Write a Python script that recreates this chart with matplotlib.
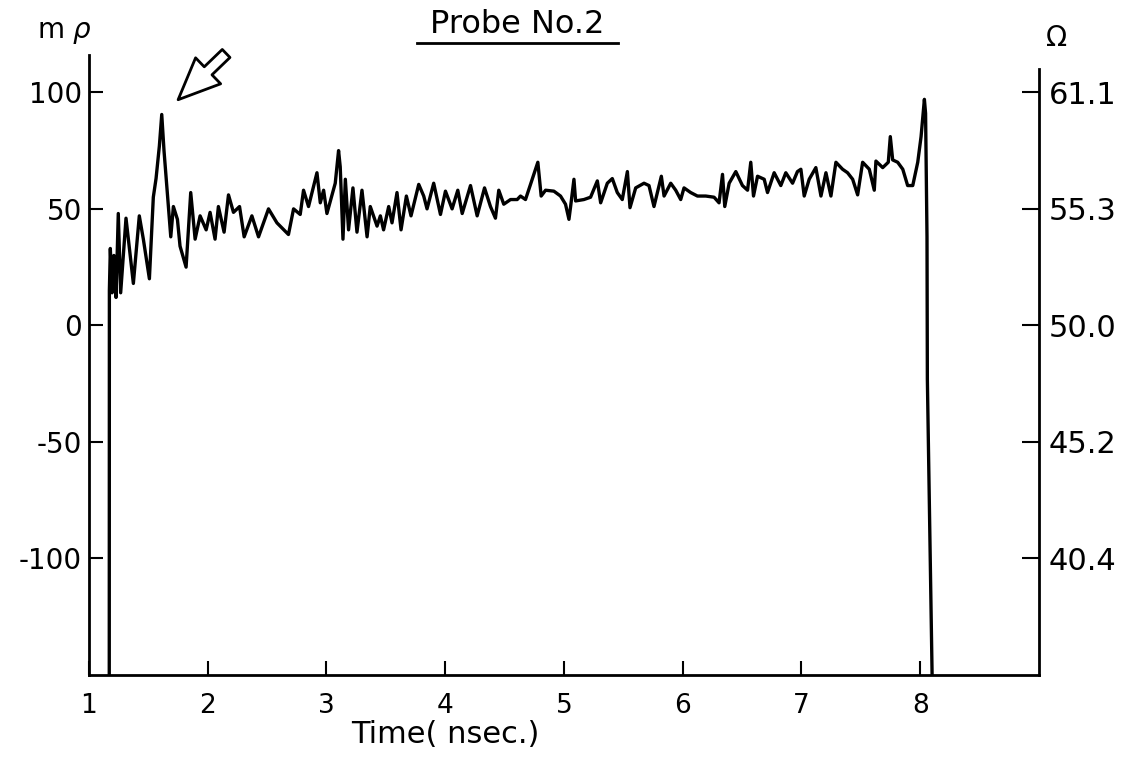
import matplotlib.pyplot as plt
from matplotlib.lines import Line2D

plt.rcParams['font.family'] = ['DejaVu Sans']

# trace (time in nsec, reflection in milli-rho)
time_ns = [1.171, 1.172, 1.18, 1.195, 1.21, 1.228, 1.247, 1.267, 1.312, 1.374,
           1.424, 1.458, 1.509, 1.542, 1.565, 1.593, 1.613, 1.632, 1.655, 1.689,
           1.711, 1.745, 1.767, 1.818, 1.857, 1.894, 1.936, 1.987, 2.020, 2.062,
           2.090, 2.138, 2.175, 2.217, 2.268, 2.307, 2.372, 2.428, 2.512, 2.583,
           2.680, 2.723, 2.779, 2.807, 2.849, 2.920, 2.948, 2.976, 3.004, 3.074,
           3.102, 3.116, 3.139, 3.159, 3.186, 3.223, 3.257, 3.299, 3.342, 3.369,
           3.426, 3.454, 3.481, 3.524, 3.552, 3.594, 3.628, 3.673, 3.712, 3.777,
           3.819, 3.847, 3.903, 3.960, 4.002, 4.058, 4.106, 4.143, 4.213, 4.269,
           4.331, 4.381, 4.423, 4.451, 4.493, 4.550, 4.606, 4.634, 4.676, 4.733,
           4.780, 4.808, 4.845, 4.915, 4.971, 5.013, 5.042, 5.056, 5.084, 5.098,
           5.168, 5.224, 5.281, 5.309, 5.365, 5.407, 5.449, 5.491, 5.534, 5.556,
           5.604, 5.674, 5.716, 5.758, 5.820, 5.843, 5.899, 5.941, 5.983, 6.011,
           6.067, 6.124, 6.194, 6.264, 6.306, 6.335, 6.354, 6.391, 6.447, 6.503,
           6.546, 6.573, 6.596, 6.630, 6.686, 6.714, 6.770, 6.826, 6.868, 6.925,
           6.966, 6.995, 7.023, 7.065, 7.121, 7.164, 7.206, 7.248, 7.290, 7.346,
           7.388, 7.431, 7.473, 7.515, 7.571, 7.613, 7.627, 7.684, 7.731, 7.748,
           7.768, 7.810, 7.853, 7.894, 7.937, 7.979, 8.007, 8.029, 8.035, 8.045,
           8.057, 8.06, 8.10]
rho_m = [-150, 15, 33, 14, 30, 12, 48, 14, 46, 18,
         47, 37, 20, 55, 63, 77, 90.5, 75, 60, 38,
         51, 45.5, 34, 25, 57, 37, 47, 41, 48.5, 37,
         51, 40, 56, 48.5, 51, 38, 47, 38, 50, 44,
         39, 50, 47.6, 58, 51, 65.5, 52.6, 58, 48, 61,
         75, 68, 37, 62.7, 41, 59, 40, 58, 38, 51,
         42.6, 47, 41, 51, 44, 57, 41, 55.5, 47, 60.5,
         55.5, 50, 61, 47.6, 57.6, 50, 58, 48, 60, 47,
         59, 51, 46, 58, 52, 54, 54, 55.5, 54, 62.7,
         70, 55.5, 58, 57.6, 55.5, 52, 45.5, 51, 62.7, 53.4,
         54, 55, 62, 52.6, 61, 63, 57, 54, 66, 50.5,
         59, 61, 60, 51, 64, 55.5, 61, 58, 54, 59,
         57, 55.5, 55.5, 55, 52.6, 64.8, 51, 61, 66, 60,
         58, 70, 55.5, 64, 62.7, 57, 65.5, 60, 65.5, 61,
         66, 67, 55.5, 62.7, 67.7, 55.5, 65.5, 55.5, 70, 67,
         65.5, 62.7, 56, 70, 67, 58, 70.5, 67.7, 70, 81,
         71, 70, 67, 60, 60, 70, 81, 93.5, 97, 91,
         38, -23, -150]

x_ticks = [1, 2, 3, 4, 5, 6, 7, 8]
rho_ticks = [100, 50, 0, -50, -100]
ohm_labels = ['61.1', '55.3', '50.0', '45.2', '40.4']

fig = plt.figure(figsize=(11.36, 7.57), dpi=100)
ax = fig.add_axes([0.0783, 0.1083, 0.8363, 0.819])

ax.plot(time_ns, rho_m, color='black', lw=2.4)

ax.set_xlim(1, 9)
ax.set_ylim(-150, 116)
ax.set_xticks(x_ticks)
ax.set_xticklabels([str(t) for t in x_ticks])
ax.set_yticks(rho_ticks)
ax.set_yticklabels([str(v) for v in rho_ticks])
ax.tick_params(axis='x', direction='in', length=10, width=1.5, pad=13, labelsize=19)
ax.tick_params(axis='y', direction='in', length=10, width=1.5, pad=5, labelsize=20)
ax.spines['top'].set_visible(False)
ax.spines['right'].set_visible(False)
for s in ['left', 'bottom']:
    ax.spines[s].set_linewidth(2)

ax2 = ax.twinx()
ax2.set_ylim(ax.get_ylim())
ax2.set_yticks(rho_ticks)
ax2.set_yticklabels(ohm_labels)
ax2.tick_params(axis='y', direction='in', length=12, width=1.5, pad=7, labelsize=22)
for s in ['top', 'left', 'bottom']:
    ax2.spines[s].set_visible(False)
ax2.spines['right'].set_linewidth(2)
ax2.spines['right'].set_bounds(-150, 110)

ax.set_xlabel('Time( nsec.)', fontsize=22)
ax.xaxis.set_label_coords(0.375, -0.072)

fig.text(0.057, 0.958, 'm $\\it{\\rho}$', fontsize=20, ha='center', va='center')
fig.text(0.930, 0.950, '\u03a9', fontsize=20, ha='center', va='center')
fig.text(0.455, 0.968, 'Probe No.2', fontsize=23, ha='center', va='center')
fig.add_artist(Line2D([0.367, 0.544], [0.943, 0.943], color='black', lw=2))

# hollow arrow pointing at the first peak
ax.annotate('', xy=(1.734, 96), xytext=(2.172, 117.5),
            arrowprops=dict(arrowstyle='simple,head_length=1.5,head_width=1.3,tail_width=0.4',
                            mutation_scale=20, fc='white', ec='black', lw=2),
            annotation_clip=False)

fig.savefig('out.png', dpi=100)
